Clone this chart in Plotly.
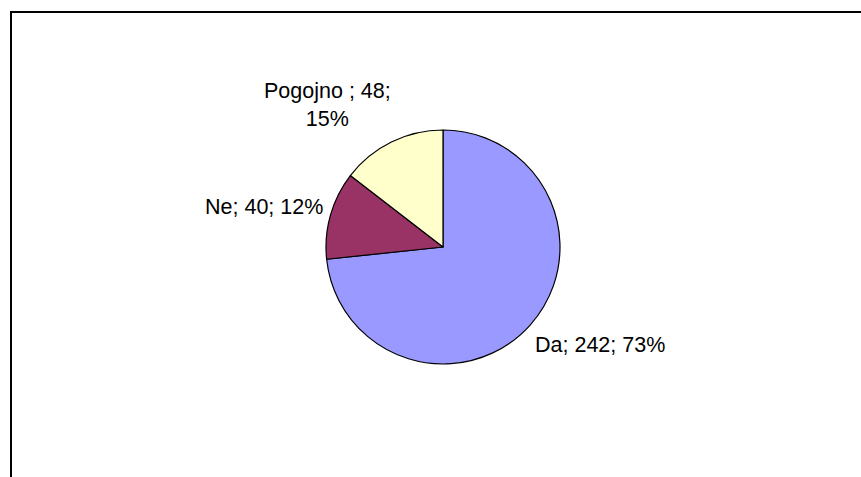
import plotly.graph_objects as go

# Survey answers and counts
labels = ["Da", "Ne", "Pogojno "]
values = [242, 40, 48]
colors = ["#9999FF", "#993366", "#FFFFCC"]

W, H = 861, 477
cx, cy, r = 443, 247, 117  # pie centre and radius in pixels

total = sum(values)
pcts = [round(v / total * 100 + 1e-9) for v in values]
texts = [f"{l}; {v}; {p}%" for l, v, p in zip(labels, values, pcts)]
texts[2] = f"{labels[2]}; {values[2]};<br>{pcts[2]}%"

fig = go.Figure(
    go.Pie(
        labels=labels,
        values=values,
        sort=False,
        direction="clockwise",
        rotation=0,
        marker=dict(colors=colors, line=dict(color="black", width=1.2)),
        textinfo="none",
        hoverinfo="label+value+percent",
        showlegend=False,
        domain=dict(
            x=[(cx - r) / W, (cx + r) / W],
            y=[1 - (cy + r) / H, 1 - (cy - r) / H],
        ),
    )
)

# Label placement (pixel centres) for each slice
label_pos = [(600, 345), (264, 207), (327, 105)]
for t, (lx, ly) in zip(texts, label_pos):
    fig.add_annotation(
        x=lx / W, y=1 - ly / H, xref="paper", yref="paper",
        text=t, showarrow=False, xanchor="center", yanchor="middle",
        font=dict(size=21.5, color="black"),
    )

# Chart area frame
fig.add_shape(
    type="rect", xref="paper", yref="paper",
    x0=11 / W, x1=1.05, y0=-0.05, y1=1 - 12 / H,
    line=dict(color="black", width=2), fillcolor="rgba(0,0,0,0)",
)

fig.update_layout(
    width=W, height=H,
    margin=dict(l=0, r=0, t=0, b=0),
    paper_bgcolor="white", plot_bgcolor="white",
    font=dict(family="Arial, Liberation Sans, sans-serif", size=21.5, color="black"),
)

fig.write_html("out.html")
